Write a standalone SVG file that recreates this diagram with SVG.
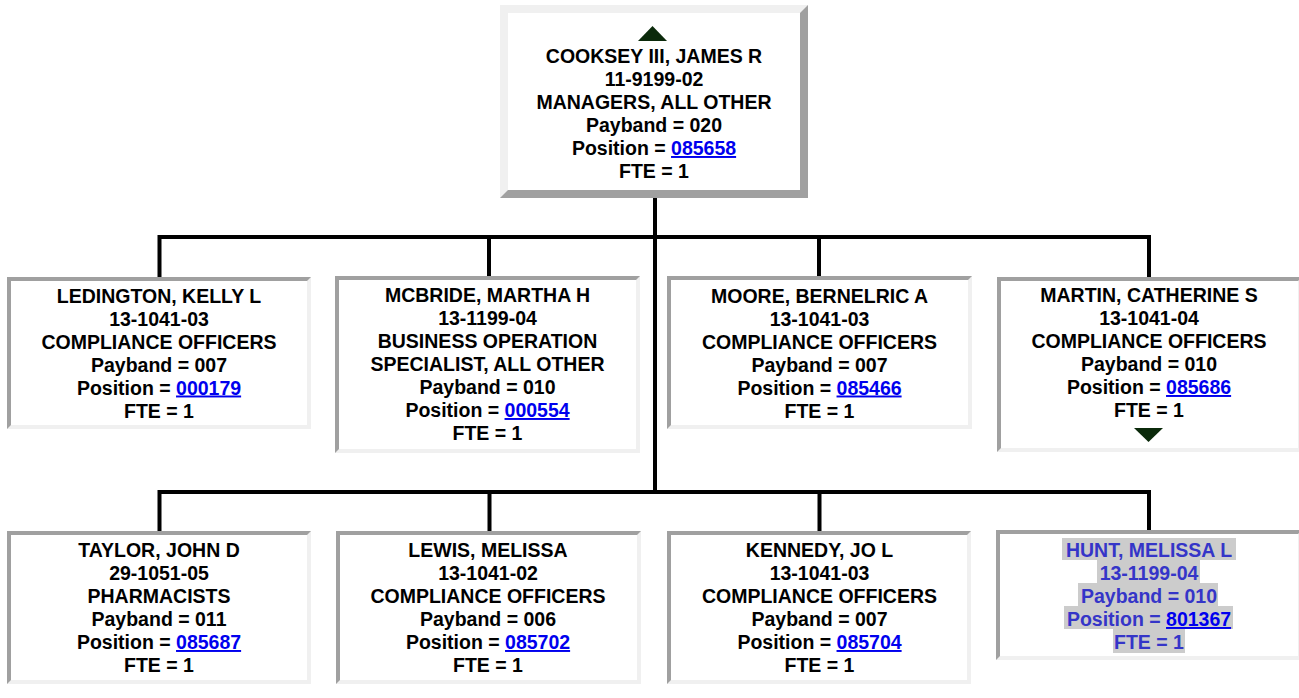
<svg xmlns="http://www.w3.org/2000/svg" width="1299" height="698" viewBox="0 0 1299 698">
<style>
.bg{fill:#ffffff}
.lt{fill:#f0f0f0}
.dk{fill:#a0a0a0}
.t{font-family:"Liberation Sans",Arial,sans-serif;font-weight:bold;font-size:19.5px;text-anchor:middle;fill:#000000}
.h{fill:#3535c8}
.a{fill:#0000ee;text-decoration:underline}
.hl{fill:#cccccc}
.tri{fill:#0b2a0b}
.c{fill:none;stroke:#000000;stroke-width:4;stroke-linejoin:miter;stroke-linecap:butt}
</style>
<rect x="0" y="0" width="1299" height="698" fill="#ffffff"/>
<g id="connectors">
  <path class="c" d="M655,198 V494"/>
  <path class="c" d="M159.5,277 V237 H1149 V277"/>
  <path class="c" d="M489,237 V277 M819,237 V277"/>
  <path class="c" d="M159.5,531 V492 H1149 V531"/>
  <path class="c" d="M489.5,492 V531 M819.5,492 V531"/>
</g>
<g id="node-cooksey">
  <rect class="dk" x="500" y="5" width="308" height="193"/>
  <path class="lt" d="M500,5 H808 L800,13 H508 V190 L500,198 Z"/>
  <rect class="bg" x="508" y="13" width="292" height="177"/>
  <path class="tri" d="M652.5,26 L667,41 H638 Z"/>
  <text class="t" x="654" y="63">COOKSEY III, JAMES R</text>
  <text class="t" x="654" y="86">11-9199-02</text>
  <text class="t" x="654" y="109">MANAGERS, ALL OTHER</text>
  <text class="t" x="654" y="132">Payband = 020</text>
  <text class="t" x="654" y="155">Position = <tspan class="a">085658</tspan></text>
  <text class="t" x="654" y="178">FTE = 1</text>
</g>
<g id="node-ledington">
  <rect class="lt" x="7" y="277" width="304" height="152"/>
  <path class="dk" d="M7,277 H311 L307,281 H11 V425 L7,429 Z"/>
  <rect class="bg" x="11" y="281" width="296" height="144"/>
  <text class="t" x="159" y="302.5">LEDINGTON, KELLY L</text>
  <text class="t" x="159" y="325.5">13-1041-03</text>
  <text class="t" x="159" y="348.5">COMPLIANCE OFFICERS</text>
  <text class="t" x="159" y="371.5">Payband = 007</text>
  <text class="t" x="159" y="394.5">Position = <tspan class="a">000179</tspan></text>
  <text class="t" x="159" y="417.5">FTE = 1</text>
</g>
<g id="node-mcbride">
  <rect class="lt" x="335" y="276" width="305" height="177"/>
  <path class="dk" d="M335,276 H640 L636,280 H339 V449 L335,453 Z"/>
  <rect class="bg" x="339" y="280" width="297" height="169"/>
  <text class="t" x="487.5" y="302">MCBRIDE, MARTHA H</text>
  <text class="t" x="487.5" y="325">13-1199-04</text>
  <text class="t" x="487.5" y="348">BUSINESS OPERATION</text>
  <text class="t" x="487.5" y="371">SPECIALIST, ALL OTHER</text>
  <text class="t" x="487.5" y="394">Payband = 010</text>
  <text class="t" x="487.5" y="417">Position = <tspan class="a">000554</tspan></text>
  <text class="t" x="487.5" y="440">FTE = 1</text>
</g>
<g id="node-moore">
  <rect class="lt" x="667" y="276" width="305" height="153"/>
  <path class="dk" d="M667,276 H972 L968,280 H671 V425 L667,429 Z"/>
  <rect class="bg" x="671" y="280" width="297" height="145"/>
  <text class="t" x="819.5" y="302.5">MOORE, BERNELRIC A</text>
  <text class="t" x="819.5" y="325.5">13-1041-03</text>
  <text class="t" x="819.5" y="348.5">COMPLIANCE OFFICERS</text>
  <text class="t" x="819.5" y="371.5">Payband = 007</text>
  <text class="t" x="819.5" y="394.5">Position = <tspan class="a">085466</tspan></text>
  <text class="t" x="819.5" y="417.5">FTE = 1</text>
</g>
<g id="node-martin">
  <rect class="lt" x="997" y="277" width="305" height="175"/>
  <path class="dk" d="M997,277 H1302 L1298,281 H1001 V448 L997,452 Z"/>
  <rect class="bg" x="1001" y="281" width="297" height="167"/>
  <text class="t" x="1149" y="302">MARTIN, CATHERINE S</text>
  <text class="t" x="1149" y="325">13-1041-04</text>
  <text class="t" x="1149" y="348">COMPLIANCE OFFICERS</text>
  <text class="t" x="1149" y="371">Payband = 010</text>
  <text class="t" x="1149" y="394">Position = <tspan class="a">085686</tspan></text>
  <text class="t" x="1149" y="417">FTE = 1</text>
  <path class="tri" d="M1134,428 H1163 L1148.5,442 Z"/>
</g>
<g id="node-taylor">
  <rect class="lt" x="7" y="531" width="304" height="153"/>
  <path class="dk" d="M7,531 H311 L307,535 H11 V680 L7,684 Z"/>
  <rect class="bg" x="11" y="535" width="296" height="145"/>
  <text class="t" x="159" y="557">TAYLOR, JOHN D</text>
  <text class="t" x="159" y="580">29-1051-05</text>
  <text class="t" x="159" y="603">PHARMACISTS</text>
  <text class="t" x="159" y="626">Payband = 011</text>
  <text class="t" x="159" y="649">Position = <tspan class="a">085687</tspan></text>
  <text class="t" x="159" y="672">FTE = 1</text>
</g>
<g id="node-lewis">
  <rect class="lt" x="336" y="531" width="305" height="153"/>
  <path class="dk" d="M336,531 H641 L637,535 H340 V680 L336,684 Z"/>
  <rect class="bg" x="340" y="535" width="297" height="145"/>
  <text class="t" x="488" y="557">LEWIS, MELISSA</text>
  <text class="t" x="488" y="580">13-1041-02</text>
  <text class="t" x="488" y="603">COMPLIANCE OFFICERS</text>
  <text class="t" x="488" y="626">Payband = 006</text>
  <text class="t" x="488" y="649">Position = <tspan class="a">085702</tspan></text>
  <text class="t" x="488" y="672">FTE = 1</text>
</g>
<g id="node-kennedy">
  <rect class="lt" x="667" y="531" width="304" height="153"/>
  <path class="dk" d="M667,531 H971 L967,535 H671 V680 L667,684 Z"/>
  <rect class="bg" x="671" y="535" width="296" height="145"/>
  <text class="t" x="819.5" y="557">KENNEDY, JO L</text>
  <text class="t" x="819.5" y="580">13-1041-03</text>
  <text class="t" x="819.5" y="603">COMPLIANCE OFFICERS</text>
  <text class="t" x="819.5" y="626">Payband = 007</text>
  <text class="t" x="819.5" y="649">Position = <tspan class="a">085704</tspan></text>
  <text class="t" x="819.5" y="672">FTE = 1</text>
</g>
<g id="node-hunt">
  <rect class="lt" x="996" y="530" width="306" height="130"/>
  <path class="dk" d="M996,530 H1302 L1298,534 H1000 V656 L996,660 Z"/>
  <rect class="bg" x="1000" y="534" width="298" height="122"/>
  <rect class="hl" x="1062" y="538" width="174" height="22"/>
  <rect class="hl" x="1097" y="560" width="103" height="23"/>
  <rect class="hl" x="1078" y="583" width="140" height="23"/>
  <rect class="hl" x="1064" y="606" width="169" height="23"/>
  <rect class="hl" x="1113" y="629" width="72" height="24"/>
  <text class="t h" x="1149" y="557">HUNT, MELISSA L</text>
  <text class="t h" x="1149" y="580">13-1199-04</text>
  <text class="t h" x="1149" y="603">Payband = 010</text>
  <text class="t h" x="1149" y="626">Position = <tspan class="a">801367</tspan></text>
  <text class="t h" x="1149" y="649">FTE = 1</text>
</g>
</svg>
